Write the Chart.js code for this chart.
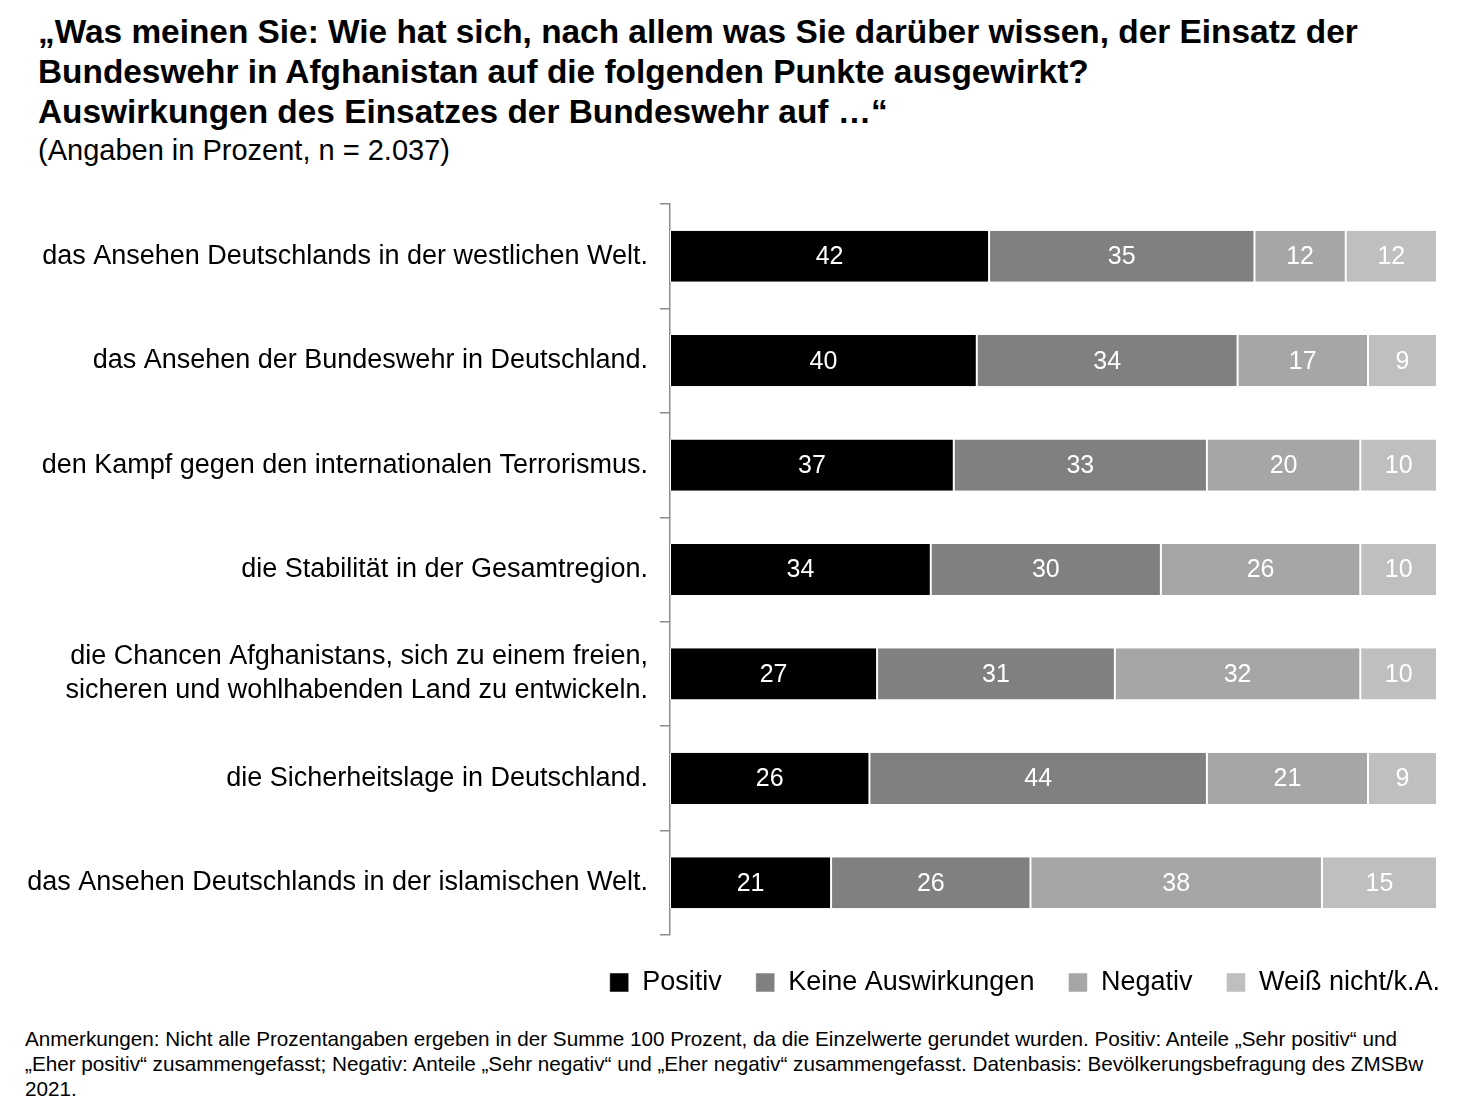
<!DOCTYPE html>
<html lang="de">
<head>
<meta charset="utf-8">
<script src="https://cdn.jsdelivr.net/npm/chart.js@4"></script>
<style>
  html, body { margin: 0; padding: 0; background: #fff; }
  body { width: 1482px; height: 1113px; position: relative; overflow: hidden;
         font-family: Arial, "Liberation Sans", sans-serif; color: #000; }
  #title { position: absolute; left: 38px; top: 12px; font-weight: bold; font-size: 33.4px; line-height: 40px; white-space: nowrap; }
  #sub { position: absolute; left: 38px; top: 132px; font-size: 29px; line-height: 36px; white-space: nowrap; }
  #chartBox { position: absolute; left: 0; top: 190px; width: 1482px; height: 816px; }
  #note { position: absolute; left: 25px; top: 1026px; font-size: 20.7px; line-height: 25px; white-space: nowrap; }
</style>
</head>
<body>
<div id="title">„Was meinen Sie: Wie hat sich, nach allem was Sie darüber wissen, der Einsatz der<br>Bundeswehr in Afghanistan auf die folgenden Punkte ausgewirkt?<br>Auswirkungen des Einsatzes der Bundeswehr auf …“</div>
<div id="sub">(Angaben in Prozent, n = 2.037)</div>
<div id="chartBox"><canvas id="chart" width="1482" height="816"></canvas></div>
<div id="note">Anmerkungen: Nicht alle Prozentangaben ergeben in der Summe 100 Prozent, da die Einzelwerte gerundet wurden. Positiv: Anteile „Sehr positiv“ und<br>„Eher positiv“ zusammengefasst; Negativ: Anteile „Sehr negativ“ und „Eher negativ“ zusammengefasst. Datenbasis: Bevölkerungsbefragung des ZMSBw<br>2021.</div>
<script>
// categories (top to bottom)
const categories = [
  'das Ansehen Deutschlands in der westlichen Welt.',
  'das Ansehen der Bundeswehr in Deutschland.',
  'den Kampf gegen den internationalen Terrorismus.',
  'die Stabilität in der Gesamtregion.',
  ['die Chancen Afghanistans, sich zu einem freien,', 'sicheren und wohlhabenden Land zu entwickeln.'],
  'die Sicherheitslage in Deutschland.',
  'das Ansehen Deutschlands in der islamischen Welt.'
];

// series, in percent (first row, shown rounded)
const positiv  = [41.6, 40, 37, 34, 27, 26, 21];
const keine    = [34.6, 34, 33, 30, 31, 44, 26];
const negativ  = [11.9, 17, 20, 26, 32, 21, 38];
const weissNicht = [11.9, 9, 10, 10, 10, 9, 15];

const seriesNames  = ['Positiv', 'Keine Auswirkungen', 'Negativ', 'Weiß nicht/k.A.'];
const seriesColors = ['#000000', '#808080', '#a6a6a6', '#bfbfbf'];

const FONT = 'Arial, "Liberation Sans", sans-serif';

// white numbers in the middle of each segment
const segmentLabels = {
  id: 'segmentLabels',
  afterDatasetsDraw(chart) {
    const ctx = chart.ctx;
    ctx.save();
    ctx.font = '25px ' + FONT;
    ctx.fillStyle = '#ffffff';
    ctx.textAlign = 'center';
    ctx.textBaseline = 'middle';
    chart.data.datasets.forEach((ds, i) => {
      chart.getDatasetMeta(i).data.forEach((bar, j) => {
        const p = bar.getProps(['x', 'base', 'y'], true);
        ctx.fillText(Math.round(ds.data[j]), (p.x + p.base) / 2, p.y + 1);
      });
    });
    ctx.restore();
  }
};

const seriesData = [positiv, keine, negativ, weissNicht];

new Chart(document.getElementById('chart').getContext('2d'), {
  type: 'bar',
  data: {
    labels: categories,
    datasets: seriesData.map((d, i) => ({
      label: seriesNames[i],
      data: d,
      backgroundColor: seriesColors[i],
      borderColor: '#ffffff',
      borderWidth: { left: 1, right: 1 },
      borderSkipped: false,
      categoryPercentage: 1,
      barPercentage: 0.49
    }))
  },
  options: {
    indexAxis: 'y',
    responsive: false,
    animation: false,
    layout: { padding: { top: 14, right: 8, left: 0, bottom: 0 } },
    plugins: {
      legend: {
        position: 'bottom',
        align: 'end',
        labels: {
          boxWidth: 19, boxHeight: 19, padding: 34,
          color: '#000', font: { family: FONT, size: 27 }
        }
      },
      tooltip: { enabled: false }
    },
    scales: {
      x: { stacked: true, min: 0, max: 100, display: false },
      y: {
        stacked: true,
        grid: { offset: true, drawOnChartArea: false, drawTicks: true, tickLength: 10, color: '#8c8c8c', lineWidth: 1.5 },
        border: { display: true, color: '#8c8c8c', width: 1.5 },
        ticks: { color: '#000', padding: 12, font: { family: FONT, size: 27, lineHeight: 1.26 } },
        afterFit(s) { s.width = 670; s.paddingTop = 0; s.paddingBottom = 0; }
      },
      y2: {
        type: 'linear', position: 'right', display: true,
        grid: { display: false }, border: { display: false }, ticks: { display: false },
        afterFit(s) { s.width = 37; s.paddingTop = 0; s.paddingBottom = 0; }
      }
    }
  },
  plugins: [segmentLabels]
});
</script>
</body>
</html>
